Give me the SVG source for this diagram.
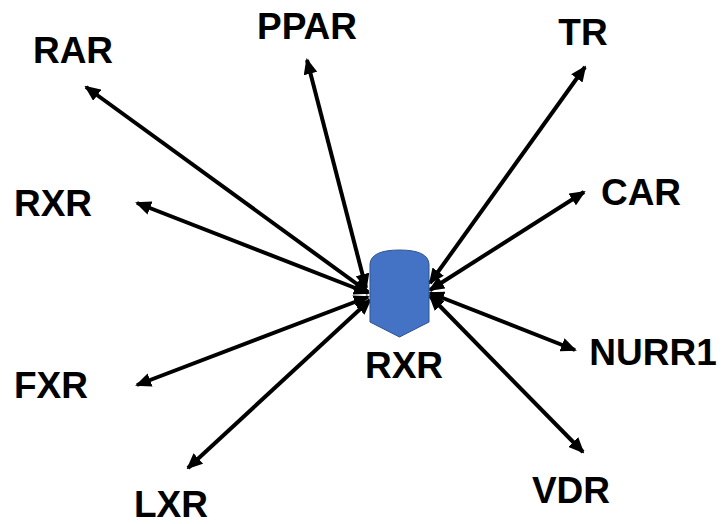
<svg xmlns="http://www.w3.org/2000/svg" width="724" height="524" viewBox="0 0 724 524">
<defs>
<marker id="ah" markerUnits="userSpaceOnUse" viewBox="0 0 16 14" markerWidth="16" markerHeight="14" refX="14" refY="7" orient="auto-start-reverse">
<path d="M0,0 L16,7 L0,14 Z" fill="#000"/>
</marker>
</defs>
<style>
.lbl{font-family:"Liberation Sans",Arial,sans-serif;font-weight:bold;font-size:37px;fill:#000;text-anchor:middle}
.c{stroke:#000;stroke-width:4;fill:none;marker-start:url(#ah);marker-end:url(#ah)}
</style>
<rect width="724" height="524" fill="#fff"/>
<g id="connectors">
<line class="c" x1="368" y1="292" x2="86" y2="87"/>
<line class="c" x1="366" y1="288" x2="307" y2="60"/>
<line class="c" x1="368" y1="293" x2="137" y2="203"/>
<line class="c" x1="368" y1="297" x2="137" y2="385"/>
<line class="c" x1="370" y1="300" x2="188" y2="468"/>
<line class="c" x1="430" y1="283" x2="585" y2="67"/>
<line class="c" x1="430" y1="290" x2="584" y2="192"/>
<line class="c" x1="430" y1="293" x2="575" y2="350"/>
<line class="c" x1="430" y1="296" x2="583" y2="452"/>
</g>
<g id="rxr-center">
<path d="M370,322 L370,264 Q371,250 399.5,250 Q428,250 429,264 L429,322 L399.5,337 Z" fill="#4472C4" stroke="#2F528F" stroke-width="1"/>
<text class="lbl" x="404" y="378">RXR</text>
</g>
<g id="rar"><text class="lbl" x="73" y="63">RAR</text></g>
<g id="ppar"><text class="lbl" x="307" y="39">PPAR</text></g>
<g id="tr"><text class="lbl" x="583" y="45">TR</text></g>
<g id="car"><text class="lbl" x="641" y="205">CAR</text></g>
<g id="rxr-left"><text class="lbl" x="53" y="216">RXR</text></g>
<g id="nurr1"><text class="lbl" x="653" y="365">NURR1</text></g>
<g id="fxr"><text class="lbl" x="51" y="398">FXR</text></g>
<g id="vdr"><text class="lbl" x="571" y="503">VDR</text></g>
<g id="lxr"><text class="lbl" x="171" y="517">LXR</text></g>
</svg>
